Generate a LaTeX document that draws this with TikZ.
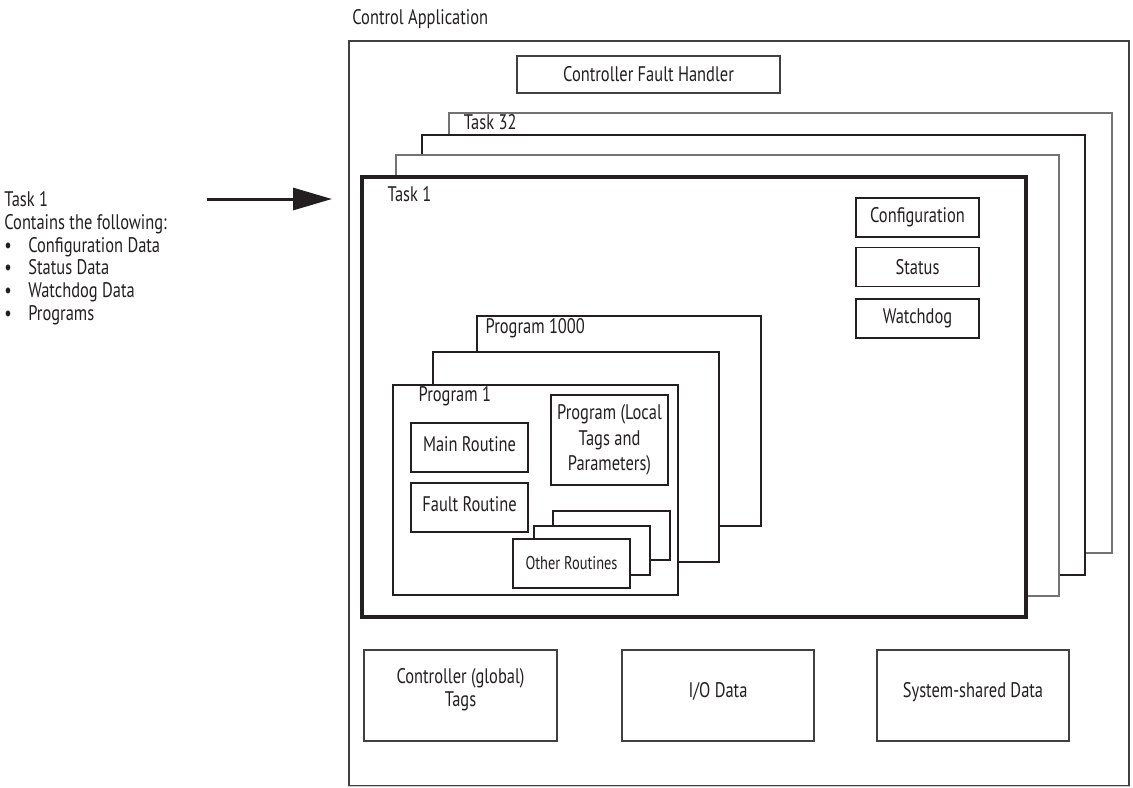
\documentclass[tikz,border=0pt]{standalone}
\usepackage{fontspec}
\setmainfont{PT Sans}[FakeStretch=0.78]
\usetikzlibrary{arrows.meta,positioning,calc}
\definecolor{ink}{HTML}{231F20}
\colorlet{edge}{black!75}
\colorlet{stack}{black!55}
\newcommand{\bul}{\makebox[4.8mm][l]{\textbullet}}
\tikzset{px/.style 2 args={minimum width=#1*0.2mm,minimum height=#2*0.2mm},
  box/.style={draw=edge,line width=0.6pt,fill=white,inner sep=0pt,align=center,
    text=ink,font=\fontsize{12}{13}\selectfont},
  inbox/.style={box,draw=ink,line width=0.8pt},
  frame/.style={draw=stack,line width=0.6pt,fill=white,inner sep=0pt},
  lbl/.style={inner sep=0pt,text=ink,font=\fontsize{12}{13}\selectfont},
  pointer/.style={line width=1.7pt,draw=ink,-{Triangle[length=7.8mm,width=4.4mm]}}}

\begin{document}
\begin{tikzpicture}[x=0.2mm,y=-0.2mm]
\useasboundingbox (0,0) rectangle (1133,787);
\node[lbl,anchor=base west] (apptitle) at (352,24) {Control Application};
\node[frame,draw=edge,px={780}{745}] (app) at (739,413.5) {};
\draw[white,line width=1pt] (app.south west) -- (app.south east);
\draw[black!20,line width=0.6pt] (app.south west) -- (app.south east);
\node[box,px={263}{37}] (cfh) at (648.5,74.5) {Controller Fault Handler};

\node[frame,px={663}{440}] (tk32) at (780.5,333) {};
\node[frame,draw=ink,px={663}{440}] (tkB) at (753.5,355) {};
\node[frame,px={663}{441}] (tkA) at (727.5,375.5) {};
\node[frame,draw=ink,line width=2pt,px={664}{440}] (tk1) at (694,397) {};
\node[lbl,anchor=base west] (tk32lbl) at ($(tk32.north west)+(15,17)$) {Task 32};
\node[lbl,anchor=base west] (tk1lbl) at ($(tk1.north west)+(27,26)$) {Task 1};

\foreach \n/\y/\t in {cfg/217.5/Configuration,sts/267/Status,wdg/318.5/Watchdog}{
 \node[inbox,px={123}{39}] (\n) at (917.5,\y) {\t};}

\node[frame,draw=ink,line width=0.8pt,px={284}{210}] (pg1000) at (619,421) {};
\node[frame,draw=ink,line width=0.8pt,px={286}{210}] (pgB) at (576,457) {};
\node[frame,draw=ink,line width=0.8pt,px={285}{210}] (pg1) at (535.5,490) {};
\node[lbl,anchor=base west] (pg1000lbl) at ($(pg1000.north west)+(9,18)$) {Program 1000};
\node[lbl,anchor=base west] (pg1lbl) at ($(pg1.north west)+(26,17)$) {Program 1};

\node[inbox,px={117}{49},text depth=4pt] (mainr) at (469.5,447.5) {Main Routine};
\node[inbox,px={117}{49},text depth=4pt] (faultr) at (469.5,507.5) {Fault Routine};
\node[inbox,px={117}{90},font=\fontsize{12}{14.5}\selectfont] (loctags) at (609.5,440)
 {Program (Local\\Tags and\\Parameters)};
\node[inbox,px={117}{49}] (or3) at (611.5,535.5) {};
\node[inbox,px={116}{49}] (or2) at (592,550.5) {};
\node[inbox,px={117}{49},font=\fontsize{10.5}{12}\selectfont] (or1) at (571.5,563.5) {Other Routines};

\node[box,px={193}{91}] (ctl) at (460.5,695.5) {Controller (global)\\Tags\\[-4pt]};
\node[box,px={192}{91},text depth=6pt] (io) at (718,695.5) {I/O Data};
\node[box,px={192}{91},text depth=6pt] (sys) at (973,695.5) {System-shared Data};

\node[lbl,anchor=north west,align=left] (note) at (4,191)
 {Task 1\\Contains the following:\\\bul Configuration Data\\\bul Status Data\\
  \bul Watchdog Data\\\bul Programs};
\coordinate (arrS) at (207,199);
\coordinate (arrE) at (332,199);
\draw[pointer] (arrS) -- (arrE);
\end{tikzpicture}
\end{document}
